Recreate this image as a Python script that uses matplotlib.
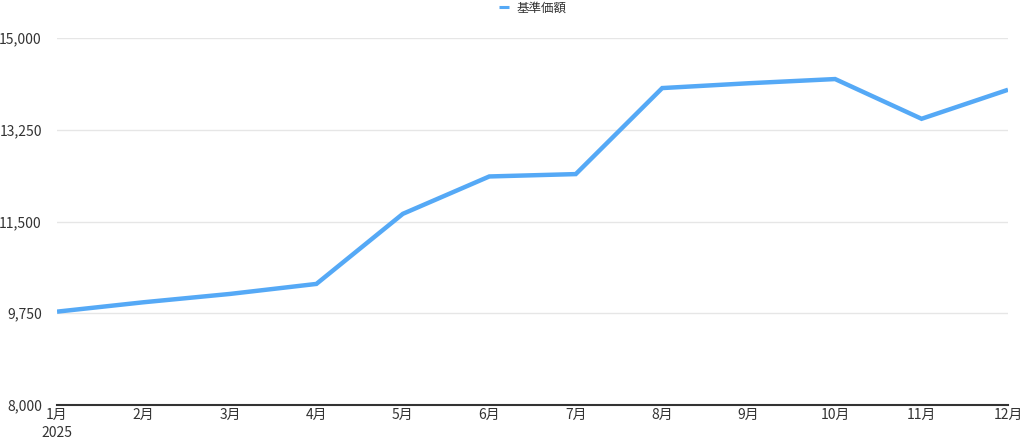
import matplotlib
matplotlib.use("Agg")
import matplotlib.pyplot as plt
from matplotlib.ticker import FuncFormatter

plt.rcParams["font.family"] = ["Noto Sans CJK JP", "DejaVu Sans"]

# data
months = ["1月", "2月", "3月", "4月", "5月", "6月", "7月", "8月", "9月", "10月", "11月", "12月"]
nav = [9781, 9960, 10119, 10310, 11647, 12360, 12405, 14046, 14138, 14218, 13460, 14014]
y_ticks = [8000, 9750, 11500, 13250, 15000]
series_name = "基準価額"
year_label = "2025"

fig = plt.figure(figsize=(10.24, 4.4), dpi=100)
ax = fig.add_axes([0.0557, 0.0795, 0.9287, 0.834])

x = list(range(len(months)))
ax.plot(x, nav, color="#55A9F6", linewidth=3.2, solid_joinstyle="miter",
        solid_capstyle="butt", label=series_name, zorder=3)

ax.set_xlim(0, len(months) - 1)
ax.set_ylim(y_ticks[0], y_ticks[-1])
ax.set_yticks(y_ticks)
ax.yaxis.set_major_formatter(FuncFormatter(lambda v, p: f"{int(v):,}"))
ax.set_xticks(x)
ax.set_xticklabels(months)

ax.grid(axis="y", color="#e6e6e6", linewidth=1)
ax.set_axisbelow(True)
for side in ["top", "right", "left"]:
    ax.spines[side].set_visible(False)
ax.spines["bottom"].set_color("#333333")
ax.spines["bottom"].set_linewidth(1.5)
ax.spines["bottom"].set_zorder(4)

ax.tick_params(axis="both", length=0, labelsize=10, colors="#333333")
ax.tick_params(axis="y", pad=11)
ax.tick_params(axis="x", pad=2)

# year under the first month
ax.text(0, -0.076, year_label, transform=ax.get_xaxis_transform(),
        ha="center", va="center", fontsize=10, color="#333333")

# legend centred near the top edge (figure coords)
leg = fig.legend(loc="center", bbox_to_anchor=(0.52, 1 - 8 / 440), frameon=False,
                 fontsize=9, handlelength=0.8, handletextpad=0.6, borderpad=0,
                 labelcolor="#333333")
for h in leg.get_lines():
    h.set_linewidth(2.2)

fig.savefig("out.png", dpi=100, facecolor="white")
